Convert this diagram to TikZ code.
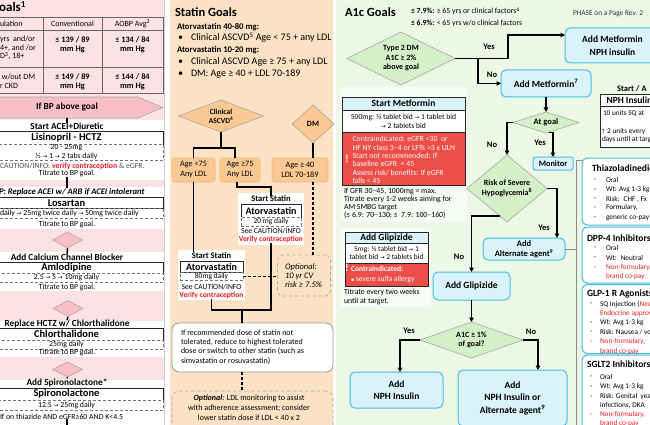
\documentclass[tikz,border=0pt]{standalone}
\usepackage{fontspec}
\usepackage{graphicx}
\setmainfont{Carlito}
\newfontfamily\symf{DejaVu Sans}
\usetikzlibrary{arrows.meta,shapes.geometric}
\newcommand{\ra}{{\symf\scalebox{0.75}{→}}}
\newcommand{\ua}{{\symf\scalebox{0.75}{↑}}}
\newcommand{\sqb}{{\symf\scalebox{0.6}{▪}}}
\definecolor{pinkbg}{RGB}{251,226,229}
\definecolor{pinkd}{RGB}{248,192,198}
\definecolor{peachbg}{RGB}{252,226,196}
\definecolor{peachd}{RGB}{250,200,146}
\definecolor{peachb}{RGB}{240,185,130}
\definecolor{greenbg}{RGB}{236,247,230}
\definecolor{greend}{RGB}{212,240,200}
\definecolor{bluef}{RGB}{218,243,251}
\definecolor{blueb}{RGB}{70,190,232}
\definecolor{redf}{RGB}{238,78,72}
\definecolor{redt}{RGB}{238,28,36}
\definecolor{paleb}{RGB}{246,251,244}
\tikzset{
  base/.style={inner sep=0pt, outer sep=0pt, align=center},
  fA/.style={font=\fontsize{7.4}{8}\selectfont},
  fB/.style={font=\fontsize{7.8}{9.3}\selectfont},
  fC/.style={font=\fontsize{8}{8.6}\selectfont},
  fCb/.style={font=\fontsize{8.3}{9.2}\selectfont\bfseries},
  fD/.style={font=\fontsize{7.8}{9}\selectfont},
  fDb/.style={font=\fontsize{9.3}{10.5}\selectfont\bfseries},
  fEb/.style={font=\fontsize{9.5}{11}\selectfont\bfseries},
  fFb/.style={font=\fontsize{9.5}{12.5}\selectfont\bfseries},
  lbl/.style={base, font=\fontsize{8.5}{9}\selectfont\bfseries},
  conn/.style={draw=black, line width=1.3pt},
  arr/.style={conn, -{Triangle[length=4.5pt,width=4.5pt]}},
  dconn/.style={draw=black, line width=1.4pt, dash pattern=on 3pt off 2pt},
  drugbox/.style={base, draw=black!85, line width=0.8pt, fill=white, minimum width=193pt, font=\fontsize{10.5}{12}\selectfont\bfseries},
  dosebox/.style={base, draw=black!55, densely dashed, line width=0.5pt, fill=white, minimum width=193pt, fB},
  pdia/.style={diamond, draw=black!40, fill=pinkd, inner sep=0pt, minimum width=30pt, minimum height=16pt},
  sdia/.style={diamond, base, draw=black!35, fill=peachd, line width=0.6pt, font=\fontsize{7.5}{9}\selectfont\bfseries},
  agebox/.style={base, rounded corners=3pt, draw=peachb, fill=peachd, line width=0.6pt, font=\fontsize{8.2}{10}\selectfont},
  stbox/.style={base, draw=black!85, line width=0.8pt, fill=white, font=\fontsize{10}{11}\selectfont\bfseries},
  stdose/.style={base, draw=black!55, densely dashed, line width=0.5pt, fill=white, font=\fontsize{7.5}{8.5}\selectfont},
  gdia/.style={diamond, base, draw=black!35, fill=greend, line width=0.6pt, font=\fontsize{8}{9.5}\selectfont\bfseries},
  bbox/.style={base, rounded corners=5pt, draw=blueb, fill=bluef, line width=1pt, fFb},
  rbox/.style={base, rounded corners=6pt, draw=blueb, fill=white, line width=1pt},
  hdr/.style={base, draw=black!85, line width=0.7pt, fill=bluef, fEb},
  wrow/.style={base, draw=black!85, line width=0.7pt, fill=white},
  redrow/.style={base, draw=black!85, line width=0.7pt, fill=redf},
  item/.style={base, anchor=west, font=\fontsize{7.3}{8}\selectfont},
  ritem/.style={item, text=redt},
  rtitle/.style={base, anchor=west, fEb},
  stat/.style={base, anchor=base west, font=\fontsize{10}{11}\selectfont},
  stath/.style={base, anchor=base west, font=\fontsize{8.7}{10}\selectfont\bfseries},
  small/.style={base, font=\fontsize{7.6}{8.5}\selectfont},
}
\begin{document}
\begin{tikzpicture}[x=1pt,y=-1pt]
\useasboundingbox (0,0) rectangle (650,425);
\clip (0,0) rectangle (650,425);
% ================= LEFT PANEL (BP) =================
\fill[pinkbg] (0,0) rectangle (164,425);
\foreach \a/\b in {120/180,187/229,252/291,321/357,380/425} \fill[white] (0,\a) rectangle (164,\b);
\fill[white] (164,0) rectangle (170,425);
\draw[black!20, line width=0.6pt] (164.5,0) -- (164.5,425);
\node[base, anchor=base east, font=\fontsize{13}{15}\selectfont\bfseries] (bpt) at (26,12) {Goals\textsuperscript{1}};
\draw[black!60, line width=0.6pt] (-5,17) rectangle (163,93);
\draw[black!60, line width=0.6pt] (-5,30) -- (163,30) (-5,67) -- (163,67) (43,17) -- (43,93) (102,17) -- (102,93);
\node[base, fC, anchor=west] (h1) at (0,24) {ulation};
\node[base, fC] (h2) at (72.5,24) {Conventional};
\node[base, fC] (h3) at (132.5,24) {AOBP Avg\textsuperscript{2}};
\node[base, fC, anchor=west, align=left] (r1a) at (0,48) {yrs~ and/or\\4+, and /or\\D\textsuperscript{3}, 18+};
\node[base, fCb] (r1b) at (72.5,45) {≤ 139 / 89\\mm Hg};
\node[base, fCb] (r1c) at (132.5,45) {≤ 134 / 84\\mm Hg};
\node[base, fC, anchor=west, align=left] (r2a) at (0,81.5) {~w/out DM\\r CKD};
\node[base, fCb] (r2b) at (72.5,81.5) {≤ 149 / 89\\mm Hg};
\node[base, fCb] (r2c) at (132.5,81.5) {≤ 144 / 84\\mm Hg};
\draw[draw=black!35, fill=pinkd, line width=0.6pt] (-30,107.5) -- (0,97) -- (138,97) -- (163,107.5) -- (138,118) -- (0,118) -- cycle;
\node[base, fDb, minimum height=21pt] (bpq) at (67,107.5) {If BP above goal};
% step 1
\node[base, fDb] (s1h) at (67,126.5) {Start ACEI+Diuretic};
\draw[conn] (bpq.south) -- (s1h.north);
\node[drugbox, minimum height=12.5pt] (lis) at (66.5,138) {Lisinopril - HCTZ};
\node[dosebox, minimum height=16pt] (lisd) at (66.5,152.25) {20 - 25mg\\½ \ra{} 1 \ra{} 2 tabs daily};
\node[base, fB, anchor=west] (lisc) at (0,166) {\textcolor{black!70}{CAUTION/INFO:} \textcolor{redt}{\bfseries verify contraception} \textcolor{black!70}{\& eGFR.}};
\node[base, fB] (list) at (67,173.5) {Titrate to BP goal.};
% step 2
\node[base, font=\fontsize{8.6}{10}\selectfont\bfseries\itshape, anchor=west] (s2h) at (-1,192) {P: Replace ACEI w/ ARB if ACEI intolerant};
\draw[conn] (list.south) -- (list.south |- s2h.north);
\node[drugbox, minimum height=11pt] (los) at (66.5,203) {Losartan};
\node[dosebox, minimum height=10pt] (losd) at (66.5,213.5) {};
\node[base, fB, anchor=west] (losdt) at (0,213.5) {daily \ra{} 25mg twice daily \ra{} 50mg twice daily};
\node[base, fB] (lost) at (67,224) {Titrate to BP goal.};
\node[pdia] (d1) at (67.5,240) {};
% step 3
\node[base, fDb] (s3h) at (67,257.5) {Add Calcium Channel Blocker};
\draw[conn] (d1.south) -- (s3h.north);
\node[drugbox, minimum height=11pt] (aml) at (66.5,267.5) {Amlodipine};
\node[dosebox, minimum height=9pt] (amld) at (66.5,277.5) {2.5 \ra{} 5 \ra{} 10mg daily};
\node[base, fB] (amlt) at (67,287) {Titrate to BP goal.};
\node[pdia] (d2) at (68,308.5) {};
% step 4
\node[base, fDb] (s4h) at (67,324) {Replace HCTZ w/ Chlorthalidone};
\draw[conn] (d2.south) -- (s4h.north);
\node[drugbox, minimum height=12pt] (chl) at (66.5,334) {Chlorthalidone};
\node[dosebox, minimum height=9pt] (chld) at (66.5,344.5) {25mg daily};
\node[base, fB] (chlt) at (67,352.5) {Titrate to BP goal.};
\node[pdia, minimum height=15pt] (d3) at (67.5,369.5) {};
% step 5
\node[base, fDb] (s5h) at (67,382.5) {Add Spironolactone*};
\draw[conn] (d3.south) -- (s5h.north);
\node[drugbox, minimum height=12pt] (spi) at (66.5,394) {Spironolactone};
\node[dosebox, minimum height=10pt] (spid) at (66.5,405) {12.5 \ra{} 25mg daily};
\node[base, fB, anchor=west] (spic) at (0,416.5) {If on thiazide AND eGFR≥60 AND K<4.5};
\coordinate (spiend) at (67,427);
\draw[conn] (spic.south -| spiend) -- (spiend);
% ================= MIDDLE PANEL (Statin) =================
\fill[peachbg] (170,0) rectangle (333,425);
\fill[white] (333,0) rectangle (336,425);
\node[base, anchor=base west, font=\fontsize{12.5}{14}\selectfont\bfseries] (stt) at (175,17) {Statin Goals};
\node[stath] (sg1) at (177,29.5) {Atorvastatin 40-80 mg:};
\node[stat] (sb1) at (178,41) {•};
\node[stat] (st1) at (191,41) {Clinical ASCVD\textsuperscript{5} Age < 75 + any LDL};
\node[stath] (sg2) at (177,53) {Atorvastatin 10-20 mg:};
\node[stat] (sb2) at (178,65) {•};
\node[stat] (st2) at (191,65) {Clinical ASCVD Age ≥ 75 + any LDL};
\node[stat] (sb3) at (178,77) {•};
\node[stat] (st3) at (191,77) {DM: Age ≥ 40 + LDL 70-189};
\node[sdia, aspect=2.6, minimum width=85pt, minimum height=32pt] (ascvd) at (221,116) {Clinical\\ASCVD\textsuperscript{4}};
\node[sdia, aspect=1, minimum width=42pt, minimum height=38pt, font=\fontsize{8}{9}\selectfont\bfseries] (dm) at (313,124) {DM};
\node[agebox, minimum width=43pt, minimum height=24pt] (age1) at (193.5,170) {Age <75\\Any LDL};
\node[agebox, minimum width=40pt, minimum height=24pt] (age2) at (240,170) {Age ≥75\\Any LDL};
\node[agebox, minimum width=56pt, minimum height=24pt] (age3) at (300,170) {Age ≥ 40\\LDL 70-189};
\coordinate (cj) at (221,148);
\draw[conn] (ascvd.south) -- (cj);
\draw[conn] (age1.north) |- ([xshift=-5pt]age2.north |- cj) -- ([xshift=-5pt]age2.north);
\draw[conn] (dm.south) -- (dm.south |- age3.north);
% upper statin block
\fill[white] (238,193) rectangle (304,245);
\node[base, font=\fontsize{8.5}{10}\selectfont\bfseries] (ss1) at (271,199) {Start Statin};
\node[stbox, minimum width=60pt, minimum height=13pt] (atv1) at (271,211) {Atorvastatin};
\node[stdose, minimum width=60pt, minimum height=9pt] (atv1d) at (271,221.5) {20 mg daily};
\node[small] (sc1) at (271,231) {See CAUTION/INFO};
\node[base, text=redt, font=\fontsize{7.6}{8.5}\selectfont\bfseries] (vc1) at (271,239.5) {Verify contraception};
\draw[conn] ([xshift=-3pt]age2.south) -- ++(0,5) -| (ss1.north);
% lower statin block
\fill[white] (178,250) rectangle (245,300);
\node[base, font=\fontsize{8.5}{10}\selectfont\bfseries] (ss2) at (211.5,255.5) {Start Statin};
\node[stbox, minimum width=63pt, minimum height=11pt] (atv2) at (211.5,267) {Atorvastatin};
\node[stdose, minimum width=63pt, minimum height=8pt] (atv2d) at (211.5,276.5) {80mg daily};
\node[small] (sc2) at (211.5,287) {See CAUTION/INFO};
\node[base, text=redt, font=\fontsize{7.6}{8.5}\selectfont\bfseries] (vc2) at (211.5,295.5) {Verify contraception};
\draw[conn] (age1.south) -- (age1.south |- ss2.north);
% optional CV risk
\node[base, rounded corners=5pt, draw=black!35, dashed, line width=0.6pt, fill=peachbg, minimum width=53pt, minimum height=41pt] (opt1) at (304,275.5) {};
\node[base, anchor=west, align=left, font=\fontsize{8.5}{9.2}\selectfont\itshape] (opt1t) at (285,275.5) {Optional:\\10 yr CV\\risk ≥ 7.5\%};
\draw[dconn] (age3.south -| dm.south) -- (opt1.north -| dm.south);
\draw[dconn] (atv2d.east) -- (opt1.west |- atv2d.east);
% join
\coordinate (mj) at (242,310);
\draw[conn] (vc1.south) -- (vc1.south |- mj) -- (vc2.south |- mj) -- (vc2.south);
\node[base, rounded corners=7pt, draw=black!40, line width=0.8pt, fill=white, minimum width=161pt, minimum height=49pt] (rec) at (252.5,347.5) {};
\node[base, anchor=west, align=left, font=\fontsize{8}{9.3}\selectfont] (rect) at (181,347) {If recommended dose of statin not\\tolerated, reduce to highest tolerated\\dose or switch to other statin (such as\\simvastatin or rosuvastatin)};
\draw[conn] (mj) -- (mj |- rec.north);
\node[base, rounded corners=7pt, draw=black!35, dashed, line width=0.6pt, fill=peachbg, minimum width=161pt, minimum height=44pt] (opt2) at (252.5,413) {};
\node[base, font=\fontsize{8}{9.8}\selectfont] (opt2t) at (249,408) {\textbf{\textit{Optional}}: LDL monitoring to assist\\with adherence assessment; consider\\lower statin dose if LDL < 40 x 2};
\draw[dconn] (mj |- rec.south) -- (mj |- opt2.north);
% ================= RIGHT PANEL (A1c) =================
\fill[greenbg] (336,0) rectangle (650,425);
\node[base, anchor=base west, font=\fontsize{12.5}{14}\selectfont\bfseries] (a1t) at (345,17) {A1c Goals};
\node[base, anchor=base west, fD] (g1) at (411,14) {\textbf{≤ 7.9\%:} ≥ 65 yrs or clinical factors\textsuperscript{6}};
\node[base, anchor=base west, fD] (g2) at (411,26) {\textbf{≤ 6.9\%:} < 65 yrs w/o clinical factors};
\node[base, anchor=base west, fA, text=black!80] (phase) at (573,16) {PHASE on a Page Rev. 2};
% metformin backdrop
\fill[paleb] (340,87) rectangle (467,222);
\fill[paleb] (340,228) rectangle (431,307);
\node[gdia, aspect=2, minimum width=108pt, minimum height=53pt] (t2dm) at (401,58.5) {Type 2 DM\\A1C ≥ 2\%\\above goal};
\node[bbox, minimum width=95pt, minimum height=35pt, anchor=west] (metnph) at (565,45.5) {Add Metformin\\NPH insulin};
\node[bbox, minimum width=90pt, minimum height=27pt] (addmet) at (546,83.5) {Add Metformin\textsuperscript{7}};
\coordinate (yn) at (478,58.5);
\coordinate (ya) at (508,35);
\draw[arr] (t2dm.east) -| (ya) -- (ya -| metnph.west);
\draw[arr] (yn) |- (addmet.west);
\node[lbl] (lyes1) at (489,47) {Yes};
\node[lbl] (lno1) at (492,75) {No};
\node[gdia, aspect=3, minimum width=66pt, minimum height=21pt, font=\fontsize{8.5}{9.5}\selectfont\bfseries] (atgoal) at (546,122.5) {At goal};
\draw[arr] (addmet.south) -- (atgoal.north);
\node[base, rounded corners=2pt, draw=blueb, fill=bluef, line width=1pt, font=\fontsize{8.3}{9}\selectfont\bfseries, minimum width=40pt, minimum height=13pt] (monitor) at (553,163.5) {Monitor};
\node[gdia, aspect=1.2, minimum width=80pt, minimum height=67pt] (risk) at (507,188.5) {Risk of Severe\\Hypoglycemia\textsuperscript{8}};
\draw[arr] (atgoal.west) -| (risk.north);
\draw[arr] (atgoal.-75) -| (monitor.north);
\node[lbl] (lno2) at (492,145) {No};
\node[lbl] (lyes2) at (540,143) {Yes};
\node[bbox, minimum width=82pt, minimum height=22pt, font=\fontsize{8.5}{9.5}\selectfont\bfseries] (alt) at (524,249) {Add\\Alternate agent\textsuperscript{9}};
\draw[arr] (risk.east) -| ([xshift=33pt]alt.north);
\node[lbl] (lyes3) at (544,228) {Yes};
\node[bbox, minimum width=77pt, minimum height=28pt] (glip) at (471.5,286) {Add Glipizide};
\draw[arr] (risk.-105) -| (glip.north);
\node[lbl] (lno3) at (459,257) {No};
\node[gdia, aspect=2.8, minimum width=103pt, minimum height=36pt] (a1c1) at (471.5,340) {A1C ≥ 1\%\\of goal?};
\draw[arr] (glip.south) -- (a1c1.north);
\node[bbox, minimum width=93pt, minimum height=36pt] (nph) at (396.5,390) {Add\\NPH Insulin};
\node[bbox, minimum width=109pt, minimum height=56pt] (nphalt) at (512.5,398) {Add\\NPH Insulin or\\Alternate agent\textsuperscript{9}};
\draw[arr] (a1c1.west) -| ([xshift=3.5pt]nph.north);
\draw[arr] (a1c1.east) -| ([xshift=25.5pt]nphalt.north);
\node[lbl] (lyes4) at (409,331) {Yes};
\node[lbl] (lno4) at (531,332) {No};
% start metformin block
\node[hdr, minimum width=123pt, minimum height=13pt] (smh) at (403.5,103.5) {Start Metformin};
\node[wrow, minimum width=123pt, minimum height=22pt, font=\fontsize{7.6}{8.8}\selectfont] (smd) at (403.5,121) {500mg: ½ tablet bid \ra{} 1 tablet bid\\\ra{} 2 tablets bid};
\node[redrow, minimum width=123pt, minimum height=53pt] (smr) at (403.5,158.5) {};
\node[base, anchor=west, align=left, text=white, font=\fontsize{7.8}{8.4}\selectfont] (smrt) at (352.5,160) {Contraindicated: eGFR <30 ~or\\HF NY class 3–4 or LFTs >3 x ULN\\Start not recommended: If\\baseline eGFR ~< 45\\Assess risk/ benefits: If eGFR\\falls < 45};
\node[base, text=white, font=\fontsize{11}{12}\selectfont\bfseries] (smx) at (347,159) {!};
\node[base, anchor=north west, align=left, font=\fontsize{7.8}{7.9}\selectfont] (smn) at (344,188) {If GFR 30–45, 1000mg = max.\\Titrate every 1-2 weeks aiming for\\AM SMBG target\\(≤ 6.9: 70–130; ≤~ 7.9: 100–160)};
% glipizide block
\node[hdr, minimum width=83pt, minimum height=11pt] (agh) at (386.5,237.5) {Add Glipizide};
\node[wrow, minimum width=83pt, minimum height=20pt, font=\fontsize{7.4}{8}\selectfont] (agd) at (386.5,253) {5mg: ½ tablet bid \ra{} 1\\tablet bid \ra{} 2 tablets bid};
\node[redrow, minimum width=83pt, minimum height=23pt] (agr) at (386.5,274.5) {};
\node[base, anchor=west, align=left, text=white, font=\fontsize{7.6}{9.5}\selectfont] (agrt) at (351,274.5) {\textbf{Contraindicated:}\\\sqb{} severe sulfa allergy};
\node[base, text=white, font=\fontsize{11}{12}\selectfont\bfseries] (agx) at (347,268) {!};
\node[base, anchor=north west, align=left, font=\fontsize{7.8}{8.6}\selectfont] (agn) at (344,289) {Titrate every two weeks\\until at target.};
% right column
\node[base, anchor=west, font=\fontsize{8.5}{10}\selectfont\bfseries] (sa) at (617,88.5) {Start / A};
\node[base, draw=black!85, line width=0.8pt, fill=white, minimum width=70pt, minimum height=53pt, anchor=north west] (nphb) at (600,94) {};
\draw[black!85, line width=0.6pt] (600,106) -- (670,106);
\node[base, anchor=west, fEb] (nphh) at (606.5,100.5) {NPH Insulin};
\node[item] (nph1) at (603,113.5) {10 units SQ at};
\node[item] (nph2) at (601,132) {\ua{} 2 units every};
\node[item] (nph3) at (602,140) {days until at target};
% thiazolidinediones
\node[rbox, minimum width=100pt, minimum height=67pt, anchor=north west] (tzd) at (582,158) {};
\node[rtitle] (tzdt) at (592,168.5) {Thiazoladinediones};
\foreach \y/\t [count=\i] in {180/Oral,190/{Wt: Avg 1-3 kg},199/{Risk:~ CHF , Fx},208/{Formulary,},218/{generic co-pay}} {
  \node[item] (tzdd\i) at (594,\y) {-};
  \node[item] (tzdi\i) at (606,\y) {\t};
}
% DPP-4
\node[rbox, minimum width=100pt, minimum height=56pt, anchor=north west] (dpp) at (582,227) {};
\node[rtitle] (dppt) at (587,238) {DPP-4 Inhibitors};
\node[item] (dppd1) at (594,248) {-}; \node[item] (dppi1) at (606,248) {Oral};
\node[item] (dppd2) at (594,258) {-}; \node[item] (dppi2) at (606,258) {Wt:~ Neutral};
\node[ritem] (dppd3) at (594,268) {-}; \node[ritem] (dppi3) at (606,268) {Non-formulary,};
\node[ritem] (dppi4) at (606,277) {brand co-pay};
% GLP-1
\node[rbox, minimum width=100pt, minimum height=69pt, anchor=north west] (glp) at (582,284.5) {};
\node[rtitle] (glpt) at (587,293.5) {GLP-1 R Agonists};
\node[item] (glpd1) at (590,304) {-}; \node[item] (glpi1) at (600,304) {SQ Injection (\textcolor{redt}{Needs}};
\node[ritem] (glpi2) at (600,313.5) {Endocrine approval};
\node[item] (glpd3) at (590,323) {-}; \node[item] (glpi3) at (600,323) {Wt: Avg 1-3 kg};
\node[item] (glpd4) at (590,332.5) {-}; \node[item] (glpi4) at (600,332.5) {Risk: Nausea / vomiting};
\node[ritem] (glpd5) at (590,342) {-}; \node[ritem] (glpi5) at (600,342) {Non-formulary,};
\node[ritem] (glpi6) at (600,351.5) {brand co-pay};
% SGLT2
\node[rbox, minimum width=100pt, minimum height=75pt, anchor=north west] (sgl) at (582,355) {};
\node[rtitle] (sglt) at (587,364) {SGLT2 Inhibitors};
\node[item] (sgld1) at (590,377) {-}; \node[item] (sgli1) at (600,377) {Oral};
\node[item] (sgld2) at (590,387) {-}; \node[item] (sgli2) at (600,387) {Wt: Avg 1-3 kg};
\node[item] (sgld3) at (590,397) {-}; \node[item] (sgli3) at (600,397) {Risk: Genital ~yeast};
\node[item] (sgli4) at (600,405.5) {infections, DKA};
\node[ritem] (sgld5) at (590,415) {-}; \node[ritem] (sgli5) at (600,415) {Non-formulary,};
\node[ritem] (sgli6) at (600,424) {brand co-pay};
% bracket
\coordinate (brt) at (576,160);
\coordinate (brb) at (576,430);
\draw[black!45, line width=0.8pt] (tzd.west |- brt) -- (brt) -- (brb);
\draw[black!45, line width=0.8pt] (alt.east) -- (alt.east -| brt);
\end{tikzpicture}
\end{document}
